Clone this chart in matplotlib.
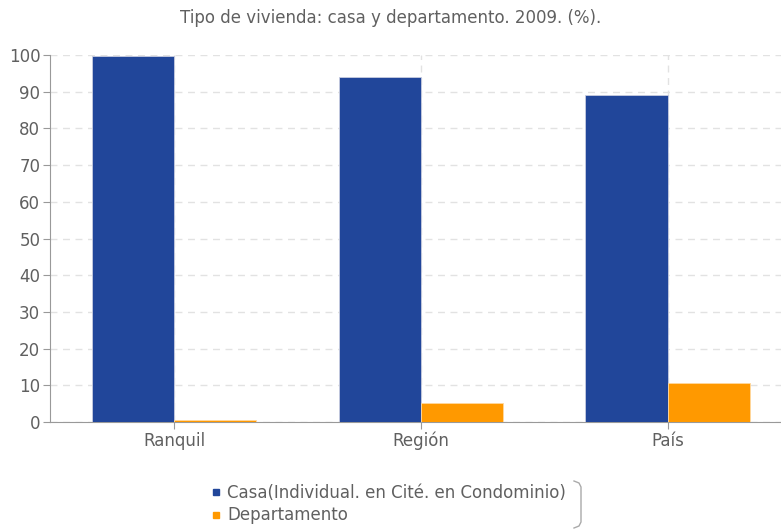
import matplotlib.pyplot as plt
import numpy as np
from matplotlib.lines import Line2D

categories = ["Ranquil", "Región", "País"]
casa = [99.7, 94.0, 89.0]
departamento = [0.5, 5.2, 10.5]
series_names = ["Casa(Individual. en Cité. en Condominio)", "Departamento"]

blue = "#21469a"
orange = "#ff9900"
gray_text = "#606060"

fig = plt.figure(figsize=(7.81, 5.31), dpi=100)
ax = fig.add_axes([50/781, 1 - 422/531, 731/781, (422 - 55)/531])

x = np.arange(len(categories))
w = 1/3
ax.bar(x - w, casa, width=w, align="edge", color=blue, edgecolor="#c8cde0", linewidth=0.6, zorder=3)
ax.bar(x, departamento, width=w, align="edge", color=orange, edgecolor="#ffd9a0", linewidth=0.6, zorder=3)

ax.set_ylim(0, 100)
ax.set_xlim(-0.503, 2.46)
ax.set_yticks(range(0, 101, 10))
ax.set_xticks(x)
ax.set_xticklabels(categories)

ax.grid(True, axis="both", color="#e2e2e2", linestyle=(0, (5, 4)), linewidth=1, zorder=0)
for s in ["top", "right"]:
    ax.spines[s].set_visible(False)
for s in ["left", "bottom"]:
    ax.spines[s].set_color("#999999")
ax.tick_params(axis="both", colors="#999999", labelcolor=gray_text, labelsize=12, length=5)
ax.tick_params(axis="x", pad=2)
ax.tick_params(axis="y", pad=2)

fig.text(0.5, 1 - 18/531, "Tipo de vivienda: casa y departamento. 2009. (%).",
         ha="center", va="center", fontsize=12, color=gray_text)

handles = [Line2D([], [], marker="s", linestyle="", color=blue, markersize=4),
           Line2D([], [], marker="s", linestyle="", color=orange, markersize=4)]
leg = fig.legend(handles, series_names, loc="center left", bbox_to_anchor=(203/781, 1 - 504/531),
                 frameon=False, fontsize=12, handlelength=0.6, handletextpad=0.35,
                 labelspacing=0.3, borderpad=0)
for t in leg.get_texts():
    t.set_color(gray_text)

# right edge of the legend box
bx = [574, 579, 581, 581, 579, 574]
by = [481, 483, 487, 522, 526, 528]
fig.add_artist(Line2D([v/781 for v in bx], [1 - v/531 for v in by], color="#aaaaaa", linewidth=1))

fig.savefig("out.png", dpi=100)
